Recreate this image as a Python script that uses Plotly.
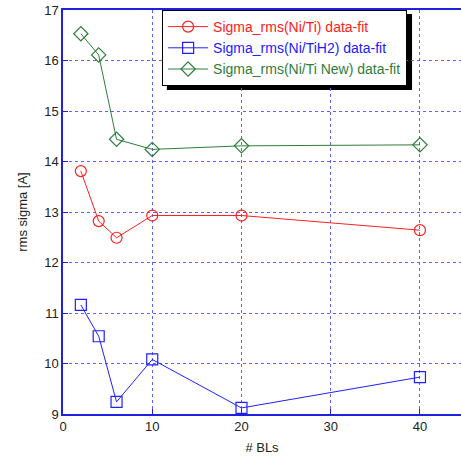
import plotly.graph_objects as go

bls = [2, 4, 6, 10, 20, 40]
sigma_niti = [13.81, 12.82, 12.49, 12.93, 12.93, 12.64]
sigma_nitih2 = [11.16, 10.54, 9.24, 10.08, 9.12, 9.73]
sigma_niti_new = [16.53, 16.11, 14.44, 14.24, 14.31, 14.33]

names = ["Sigma_rms(Ni/Ti) data-fit", "Sigma_rms(Ni/TiH2) data-fit", "Sigma_rms(Ni/Ti New) data-fit"]
colors = ["#ff2020", "#2020ff", "#2e7d3a"]
symbols = ["circle-open", "square-open", "diamond-open"]

fig = go.Figure()
for ys, nm, c, s in zip([sigma_niti, sigma_nitih2, sigma_niti_new], names, colors, symbols):
    fig.add_trace(go.Scatter(x=bls, y=ys, name=f'<span style="color:{c}">{nm}</span>', mode="lines+markers",
                             line=dict(color=c, width=1),
                             marker=dict(symbol=s, size=11, color=c, line=dict(width=1.2, color=c))))

axcommon = dict(showgrid=True, gridcolor="#6060ff", griddash="dot", gridwidth=1,
                showline=True, linecolor="#2020e0", linewidth=1.5,
                ticks="inside", ticklen=5, tickcolor="#2020e0",
                tickfont=dict(family="Arial, Liberation Sans", size=13, color="#222"),
                zeroline=False)

fig.update_xaxes(range=[0, 44.6], dtick=10, title=dict(text="# BLs", font=dict(family="Arial, Liberation Sans", size=13, color="#222"), standoff=10), mirror=True, **axcommon)
fig.update_yaxes(range=[9, 17], dtick=1, title=dict(text="rms sigma [A]", font=dict(family="Arial, Liberation Sans", size=13, color="#222"), standoff=14), **axcommon)

# legend shadow
fig.add_shape(type="rect", xref="paper", yref="paper", x0=0.261, x1=0.877, y0=0.802, y1=0.99,
              fillcolor="black", line=dict(width=0), layer="below")

fig.update_layout(
    width=461, height=465,
    margin=dict(l=63, r=0, t=10, b=51),
    plot_bgcolor="white", paper_bgcolor="white",
    legend=dict(x=0.249, y=1.0, xanchor="left", yanchor="top",
                bgcolor="white", bordercolor="black", borderwidth=1,
                font=dict(family="Arial, Liberation Sans", size=14),
                tracegroupgap=0, itemwidth=40),
)

fig.write_html("out.html")
